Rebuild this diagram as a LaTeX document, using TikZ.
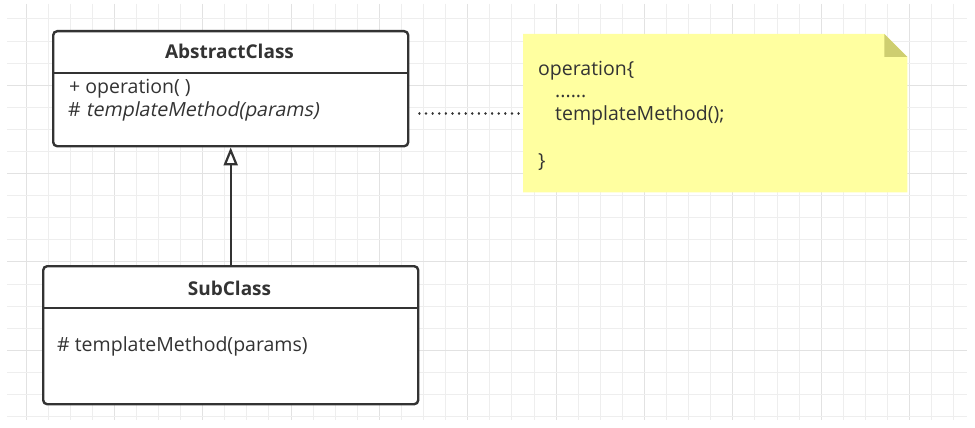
\documentclass[tikz,border=0pt]{standalone}
\usepackage{fontspec}
\setmainfont{Open Sans}
\newfontfamily\slantedsans{Open Sans}[FakeSlant=0.2]
\usetikzlibrary{arrows.meta}
\definecolor{ink}{HTML}{333333}
\definecolor{gridminor}{HTML}{EEEEEE}
\definecolor{gridmajor}{HTML}{E2E2E2}
\definecolor{notefill}{RGB}{255,255,160}
\definecolor{notefold}{RGB}{206,206,112}
\tikzset{
  classbox/.style={draw=ink, line width=2.4pt, rounded corners=4pt, fill=white,
    inner sep=0pt, anchor=north west},
  divider/.style={draw=ink, line width=2.4pt},
  txt/.style={inner sep=0pt, anchor=base west, text=ink, font=\fontsize{19.5}{23}\selectfont},
  title/.style={inner sep=0pt, anchor=base, text=ink, font=\fontsize{19}{23}\selectfont\bfseries},
  inherit/.style={draw=ink, line width=2.4pt, -{Triangle[open, length=18pt, width=14pt, line width=2.2pt]}},
  notelink/.style={draw=ink, line width=2.6pt, line cap=round, dash pattern=on 0.01pt off 6.6pt},
  gridline/.style={draw=gridminor, line width=1pt},
  gridbold/.style={draw=gridmajor, line width=1pt},
}
\begin{document}
\begin{tikzpicture}[x=1pt, y=-1pt]
\useasboundingbox (0,0) rectangle (975,428);
\fill[white] (0,0) rectangle (975,428);

% background grid
\foreach \k in {0,...,42} {
  \pgfmathsetmacro\gx{26+22.09*\k}
  \pgfmathtruncatemacro\m{mod(\k,4)}
  \ifnum\m=0
    \draw[gridbold] (\gx,4) -- (\gx,420);
  \else
    \draw[gridline] (\gx,4) -- (\gx,420);
  \fi
}
\foreach \k in {0,...,18} {
  \pgfmathsetmacro\gy{19+22.09*\k}
  \pgfmathtruncatemacro\m{mod(\k,4)}
  \ifnum\m=3
    \draw[gridbold] (7,\gy) -- (967,\gy);
  \else
    \draw[gridline] (7,\gy) -- (967,\gy);
  \fi
}

% abstract class
\node[classbox, minimum width=355pt, minimum height=115pt] (abs) at (52,30) {};
\draw[divider] (abs.west |- 0,73) -- (abs.east |- 0,73);
\node[title] (absname) at (229.5,59) {AbstractClass};
\node[txt] (absop) at (69,94) {+ operation( )};
\node[txt] (abstm) at (68,116) {\# {\slantedsans templateMethod(params)}};

% concrete subclass
\node[classbox, minimum width=375pt, minimum height=138pt] (sub) at (42,265) {};
\draw[divider] (sub.west |- 0,308) -- (sub.east |- 0,308);
\node[title] (subname) at (229.5,295) {SubClass};
\node[txt] (subtm) at (57,351) {\# templateMethod(params)};

% generalisation arrow
\draw[inherit] (sub.north) -- (abs.south);

% note with folded corner
\node[inner sep=0pt, minimum width=384pt, minimum height=158pt, anchor=north west] (note) at (523,34) {};
\fill[notefill] (note.north west) -- ([xshift=-23pt]note.north east)
  -- ([yshift=-23pt]note.north east) -- (note.south east) -- (note.south west) -- cycle;
\fill[notefold] ([xshift=-23pt]note.north east) -- ([xshift=-23pt,yshift=-23pt]note.north east)
  -- ([yshift=-23pt]note.north east) -- cycle;
\node[txt] (n1) at (538,75) {operation\{};
\node[txt] (n2) at (555,98) {......};
\node[txt] (n3) at (555,121) {templateMethod();};
\node[txt] (n4) at (538,167) {\}};

% note link
\draw[notelink] ([xshift=10pt]abs.east |- note.west) -- (note.west);
\end{tikzpicture}
\end{document}
